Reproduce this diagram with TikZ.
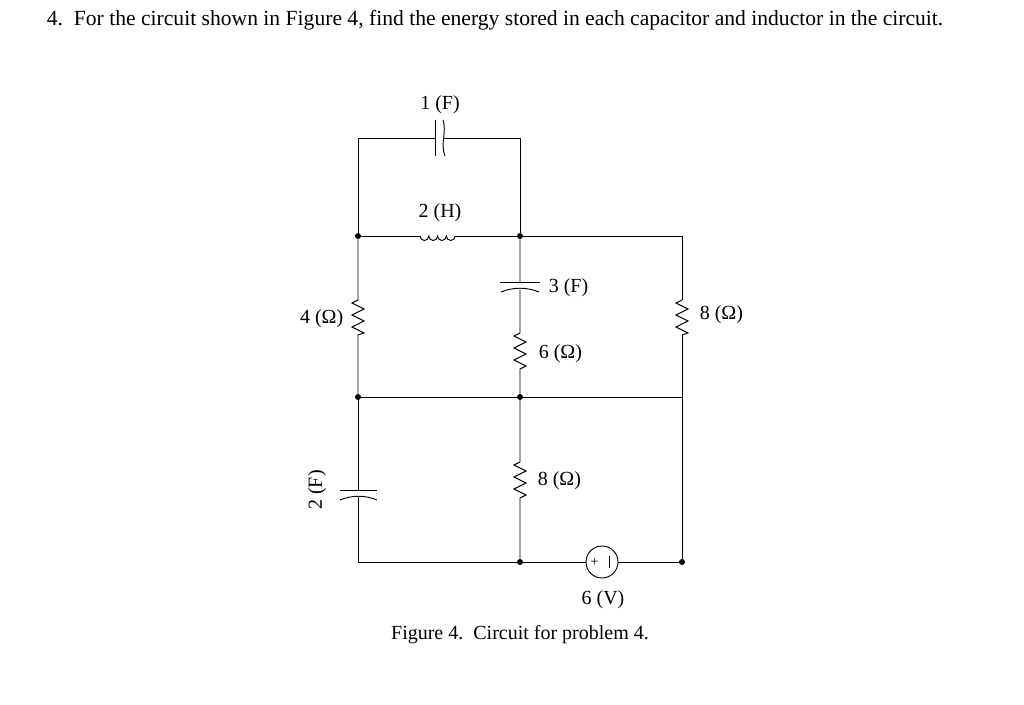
\documentclass[tikz,border=0pt]{standalone}
\usepackage{fontspec}
\setmainfont{Liberation Serif}
\begin{document}
\begin{tikzpicture}[x=0.75pt,y=-0.75pt,line width=0.7pt,
  dot/.style={circle,fill=black,inner sep=0pt,minimum size=4.5pt},
  lab/.style={font=\fontsize{15}{17}\selectfont,inner sep=1pt}]
\useasboundingbox (0,0) rectangle (1024,705);
\node[anchor=west,font=\fontsize{16.2}{19}\selectfont] (title) at (42,20) {4.\ \ For the circuit shown in Figure 4, find the energy stored in each capacitor and inductor in the circuit.};
% junctions
\coordinate (TL) at (358,138); \coordinate (TM) at (520,138);
\node[dot] (A) at (358,236) {}; \node[dot] (B) at (520,236) {};
\coordinate (C) at (682,236);
\node[dot] (D) at (358,397) {}; \node[dot] (E) at (520,397) {};
\coordinate (F) at (682,397);
\coordinate (G) at (358,562); \node[dot] (H) at (520,562) {}; \node[dot] (I) at (682,562) {};
% top 1F cap
\draw (A) -- (TL) -- (435,138) (443,138) -- (TM) -- (B);
\draw (435,120) -- (435,156);
\draw (443,120) .. controls (447,132) and (440,144) .. (445,156);
\node[lab] (c1) at (440,105) {1 (F)};
% inductor 2H
\draw (A) -- (420,236);
\draw (420,236) \foreach \i in {1,2,3,4} {arc[start angle=180,end angle=0,x radius=4.4,y radius=4.5]};
\draw (455.2,236) -- (B);
\node[lab] (l2) at (440,213) {2 (H)};
% wires
\draw (B) -- (C) -- (682,300);
\draw (682,335) -- (F) -- (E) -- (D);
\draw (682,300) -- (676,303) -- (688,309) -- (676,315) -- (688,321) -- (676,327) -- (688,333) -- (682,335);
\node[lab,anchor=west] (r8a) at (698,315) {8 (Ω)};
% left 4 ohm
\draw (A) -- (358,300) -- (352,303) -- (364,309) -- (352,315) -- (364,321) -- (352,327) -- (364,333) -- (358,335) -- (D);
\node[lab,anchor=east] (r4) at (345,319) {4 (Ω)};
% middle 3F + 6ohm
\draw (B) -- (520,282) (520,290) -- (520,333) -- (514,336) -- (526,342) -- (514,348) -- (526,354) -- (514,360) -- (526,366) -- (520,369) -- (E);
\draw (500,282) -- (540,282);
\draw (501,292) .. controls (513,287) and (527,287) .. (539,292);
\node[lab,anchor=west] (c3) at (547,288) {3 (F)};
\node[lab,anchor=west] (r6) at (537,354) {6 (Ω)};
% bottom left 2F
\draw (D) -- (358,490) (358,497) -- (G) -- (H);
\draw (340,490) -- (377,490);
\draw (340,500) .. controls (352,495) and (365,495) .. (377,500);
\node[lab,rotate=90] (c2) at (317,490) {2 (F)};
% middle 8 ohm
\draw (E) -- (520,462) -- (514,465) -- (526,471) -- (514,477) -- (526,483) -- (514,489) -- (526,495) -- (520,498) -- (H);
\node[lab,anchor=west] (r8b) at (536,481) {8 (Ω)};
% source
\node[draw,circle,minimum size=24pt,inner sep=0pt] (V) at (602,562) {};
\node[font=\fontsize{11}{12}\selectfont,inner sep=0pt] (pl) at (594.5,562) {+};
\draw (609,556) -- (609,568);
\draw (H) -- (V) -- (I) -- (F);
\node[lab] (v6) at (603,600) {6 (V)};
\node[lab] (cap) at (520,635) {Figure 4.\ \ Circuit for problem 4.};
\end{tikzpicture}
\end{document}
